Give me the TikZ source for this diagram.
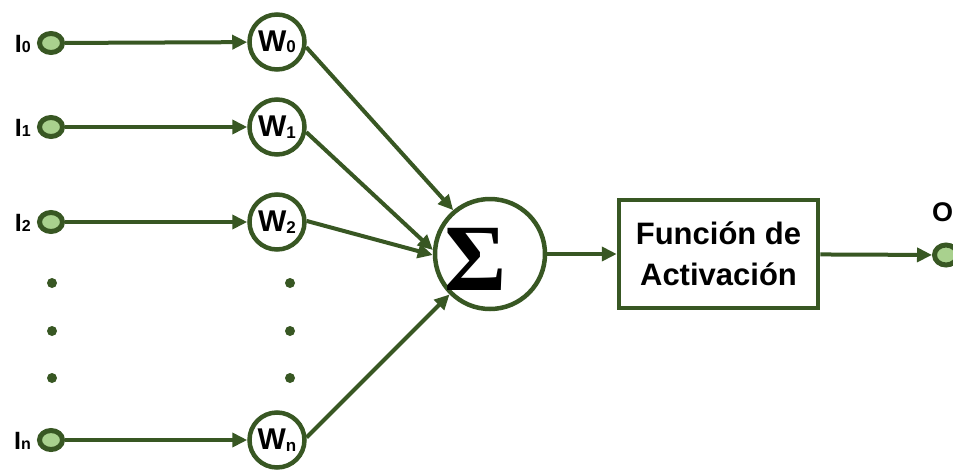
\documentclass[tikz,border=0pt]{standalone}
\usepackage{fontspec}
\setmainfont{Liberation Sans}
\newfontfamily\sigmafont{Liberation Serif}
\usetikzlibrary{arrows.meta,shapes.geometric}
\definecolor{netgreen}{HTML}{385723}
\definecolor{nodefill}{HTML}{A9D18E}
% small lowered indices for the input and weight labels
\newcommand{\wsub}[1]{\raisebox{-1.5pt}{\fontsize{17}{17}\selectfont #1}}
\newcommand{\isub}[1]{\raisebox{-0.5pt}{\fontsize{16}{16}\selectfont #1}}
\begin{document}
\begin{tikzpicture}[x=1pt,y=-1pt,
  inp/.style={ellipse, draw=netgreen, fill=nodefill, line width=5pt,
    minimum width=23pt, minimum height=19pt, inner sep=0pt},
  wcirc/.style={circle, draw=netgreen, fill=white, line width=4.5pt,
    minimum size=55pt, inner sep=0pt, font=\fontsize{30}{30}\selectfont\bfseries},
  sumcirc/.style={circle, draw=netgreen, fill=white, line width=4.5pt,
    minimum size=110pt, inner sep=0pt},
  actbox/.style={rectangle, draw=netgreen, fill=white, line width=4.5pt,
    minimum width=199pt, minimum height=108pt, align=center,
    font=\fontsize{31}{41}\selectfont\bfseries},
  link/.style={draw=netgreen, line width=4pt, -{Triangle[length=15pt,width=14pt]}},
  dotmark/.style={circle, fill=netgreen, minimum size=10pt, inner sep=0pt},
  inlabel/.style={anchor=base east, inner sep=0pt, font=\fontsize{25}{25}\selectfont\bfseries}
]
\useasboundingbox (0,0) rectangle (953,472);

% inputs
\node[inp] (i0) at (51,43) {};
\node[inp] (i1) at (51,127) {};
\node[inp] (i2) at (51,222) {};
\node[inp] (in) at (51,440) {};
\node[inlabel] (li0) at (31,52) {I\isub{0}};
\node[inlabel] (li1) at (31,136) {I\isub{1}};
\node[inlabel] (li2) at (31,231) {I\isub{2}};
\node[inlabel] (lin) at (31,449) {I\isub{n}};

% weights
\node[wcirc] (w0) at (277,42) {W\wsub{0}};
\node[wcirc] (w1) at (277,127) {W\wsub{1}};
\node[wcirc] (w2) at (277,222) {W\wsub{2}};
\node[wcirc] (wn) at (277,440) {W\wsub{n}};

% ellipsis dots
\node[dotmark] (da1) at (52,283) {};
\node[dotmark] (da2) at (52,331) {};
\node[dotmark] (da3) at (52,378) {};
\node[dotmark] (db1) at (290,283) {};
\node[dotmark] (db2) at (290,331) {};
\node[dotmark] (db3) at (290,378) {};

% summation, activation, output
\node[sumcirc] (sig) at (490,254) {};
\node[actbox] (act) at (718.5,254) {Función de\\Activación};
\node[inp, minimum width=23pt, minimum height=20pt] (out) at (946,255) {};
\node[anchor=base west, inner sep=0pt, font=\fontsize{27}{27}\selectfont\bfseries] (olab) at (932,221) {O};

% connections
\draw[link] (i0) -- (w0);
\draw[link] (i1) -- (w1);
\draw[link] (i2) -- (w2);
\draw[link] (in) -- (wn);
\draw[link] (w0.-10) -- (sig.130);
\draw[link] (w1.-10) -- (sig.176);
\draw[link] (w2.2) -- (sig.181);
\draw[link] (wn.5) -- (sig.-135);
\draw[link] (sig) -- (act);
\draw[link] (act) -- (out);

% summation sign on top
\node[anchor=base, inner sep=0pt, font=\sigmafont\bfseries\fontsize{95}{95}\selectfont] (sigtxt) at (476,290) {Σ};
\end{tikzpicture}
\end{document}
